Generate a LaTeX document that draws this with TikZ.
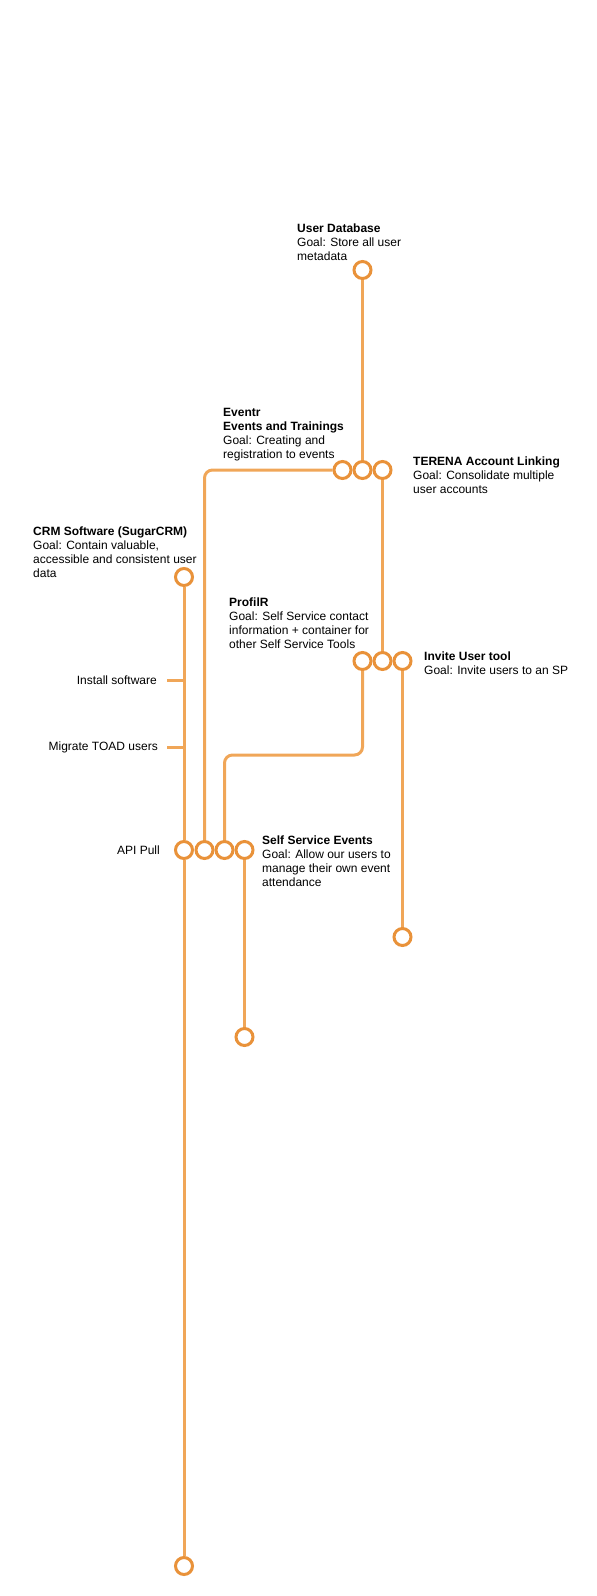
\documentclass[tikz,border=0pt]{standalone}
\usepackage{fontspec}
\setmainfont{Liberation Sans}
\definecolor{lineor}{RGB}{240,166,88}
\definecolor{circor}{RGB}{233,146,58}
\begin{document}
\begin{tikzpicture}[x=1pt,y=-1pt,
  milestone/.style={circle,draw=circor,line width=3pt,fill=white,minimum size=17pt,inner sep=0pt},
  track/.style={draw=lineor,line width=3pt},
  txt/.style={anchor=north west,inner sep=0pt,align=left,font=\fontsize{12}{14}\selectfont,text=black},
  ticklbl/.style={anchor=east,inner sep=0pt,font=\fontsize{12}{14}\selectfont,text=black}]
\useasboundingbox (0,0) rectangle (597,1596);
% milestones
\node[milestone] (ud) at (362.5,270) {};
\node[milestone] (t1) at (342.5,470) {};
\node[milestone] (t2) at (362.5,470) {};
\node[milestone] (t3) at (382.5,470) {};
\node[milestone] (crm) at (184,577) {};
\node[milestone] (m1) at (362.5,661) {};
\node[milestone] (m2) at (382.5,661) {};
\node[milestone] (m3) at (402.5,661) {};
\node[milestone] (a1) at (184,850) {};
\node[milestone] (a2) at (204.5,850) {};
\node[milestone] (a3) at (224.5,850) {};
\node[milestone] (a4) at (244.5,850) {};
\node[milestone] (inv) at (402.5,937) {};
\node[milestone] (sse) at (244.5,1037) {};
\node[milestone] (crmend) at (184,1566) {};
% connectors
\draw[track] (ud) -- (t2);
\draw[track,rounded corners=8pt] (t1) -| (a2);
\draw[track] (t3) -- (m2);
\coordinate (pbend) at (224.5,755);
\draw[track,rounded corners=8pt] (m1) |- (pbend) -- (a3);
\draw[track] (m3) -- (inv);
\draw[track] (a4) -- (sse);
\draw[track] (crm) -- (a1);
\draw[track] (a1) -- (crmend);
% ticks
\coordinate (k1) at (184,680);
\coordinate (k1e) at (167,680);
\coordinate (k2) at (184,747);
\coordinate (k2e) at (167,747);
\draw[track] (k1) -- (k1e);
\draw[track] (k2) -- (k2e);
\node[ticklbl] (l1) at (157,680) {Install software};
\node[ticklbl] (l2) at (158,747) {Migrate TOAD users};
\node[ticklbl] (l3) at (160,850) {API Pull};
% texts
\node[txt] (udt) at (297,224) {\textbf{User Database}\\Goal: Store all user\\metadata};
\node[txt] (evt) at (223,408) {\textbf{Eventr}\\\textbf{Events and Trainings}\\Goal: Creating and\\registration to events};
\node[txt] (ter) at (413,456.5) {\textbf{TERENA Account Linking}\\Goal: Consolidate multiple\\user accounts};
\node[txt] (crmt) at (33,527) {\textbf{CRM Software (SugarCRM)}\\Goal: Contain valuable,\\accessible and consistent user\\data};
\node[txt] (prt) at (229,597.5) {\textbf{ProfilR}\\Goal: Self Service contact\\information + container for\\other Self Service Tools};
\node[txt] (invt) at (424,652) {\textbf{Invite User tool}\\Goal: Invite users to an SP};
\node[txt] (sset) at (262,836) {\textbf{Self Service Events}\\Goal: Allow our users to\\manage their own event\\attendance};
\end{tikzpicture}
\end{document}
